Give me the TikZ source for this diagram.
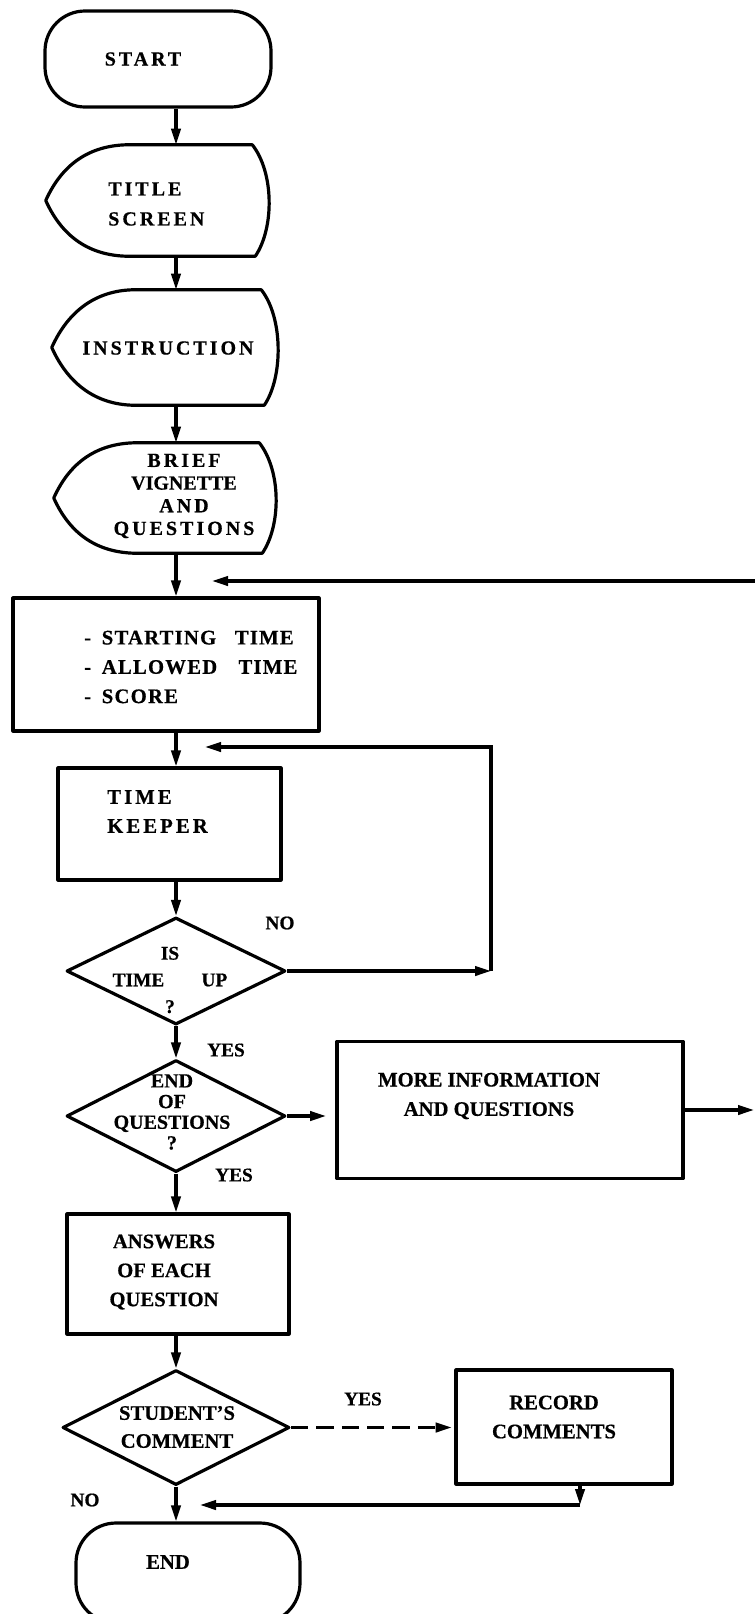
\documentclass[tikz,border=0pt]{standalone}
\usepackage{fontspec}
\setmainfont{Liberation Serif}[BoldFeatures={FakeBold=0.6}]
\newfontfamily\wideserif{Liberation Serif}[LetterSpace=15, BoldFeatures={FakeBold=0.6}]
\newfontfamily\midserif{Liberation Serif}[LetterSpace=6, BoldFeatures={FakeBold=0.6}]
\usetikzlibrary{arrows.meta,shapes.geometric,calc}

% outline of a display (screen) symbol round an empty node
\newcommand\screenline[1]{%
	\draw[outline] (#1.west)
		.. controls ($(#1.west)+(18,-40)$) and ($(#1.north west)+(48,0)$) .. ($(#1.north west)+(84,0)$)
		-- ($(#1.north east)+(-16,0)$)
		.. controls ($(#1.north east)+(6,28)$) and ($(#1.south east)+(6,-28)$) .. ($(#1.south east)+(-13,0)$)
		-- ($(#1.south west)+(84,0)$)
		.. controls ($(#1.south west)+(48,0)$) and ($(#1.west)+(18,40)$) .. (#1.west) -- cycle;}

\tikzset{
	outline/.style={line width=2.4pt, line join=round},
	flow/.style={line width=2.3pt, -{Triangle[length=12pt,width=7pt]}},
	terminal/.style={rectangle, draw, outline, rounded corners=30pt},
	screen/.style={rectangle, draw=none},
	procbox/.style={rectangle, draw, outline},
	decision/.style={diamond, draw, outline, inner sep=0pt},
	upper/.style={inner sep=0pt, align=center, font=\wideserif\bfseries\fontsize{15}{22.5}\selectfont},
	lower/.style={inner sep=0pt, align=center, font=\bfseries\fontsize{15.5}{22}\selectfont},
	tag/.style={inner sep=0pt, font=\bfseries\fontsize{14.5}{17}\selectfont},
}

\begin{document}
\begin{tikzpicture}[x=0.75pt, y=-0.75pt]
	\useasboundingbox (0,0) rectangle (755,1614);
	\clip (0,0) rectangle (755,1614);

	% shapes
	\node[terminal, minimum width=169.5pt, minimum height=72pt] (start) at (158,59) {};
	\node[screen, minimum width=166.5pt, minimum height=83.25pt] (title) at (157,200.5) {};
	\node[screen, minimum width=168.75pt, minimum height=86.25pt] (instr) at (164.5,347.5) {};
	\node[screen, minimum width=165.75pt, minimum height=82.5pt] (brief) at (164.5,498) {};
	\node[procbox, minimum width=229.5pt, minimum height=99.75pt] (setup) at (166,664.5) {};
	\node[procbox, minimum width=167.25pt, minimum height=84pt] (keeper) at (169.5,824) {};
	\node[decision, minimum width=164.25pt, minimum height=80.25pt] (timeup) at (176,971) {};
	\node[decision, minimum width=164.25pt, minimum height=84pt] (lastq) at (176,1116) {};
	\node[procbox, minimum width=259.5pt, minimum height=102.75pt] (more) at (510,1110) {};
	\node[procbox, minimum width=166.5pt, minimum height=90pt] (answers) at (178,1274) {};
	\node[decision, minimum width=170.25pt, minimum height=86.25pt] (comment) at (176,1427.5) {};
	\node[procbox, minimum width=162pt, minimum height=85.5pt] (record) at (564,1427) {};
	\node[terminal, minimum width=168pt, minimum height=75pt] (end) at (188,1573) {};
	\screenline{title}
	\screenline{instr}
	\screenline{brief}

	% texts
	\node[upper] (starttxt) at (143,59) {START};
	\node[upper, align=left, anchor=west] (titletxt) at (108,204) {TITLE\\SCREEN};
	\node[upper] (instrtxt) at (168,348) {INSTRUCTION};
	\node[upper, font=\wideserif\bfseries\fontsize{15}{17}\selectfont] (brieftxt) at (184,496)
		{BRIEF\\{\rmfamily\bfseries VIGNETTE}\\AND\\QUESTIONS};
	\node[lower, align=left, anchor=west, font=\midserif\bfseries\fontsize{15.5}{22}\selectfont] (setuptxt) at (84,667)
		{-\hspace{8pt}STARTING\hspace{14pt}TIME\\-\hspace{8pt}ALLOWED\hspace{16pt}TIME\\-\hspace{8pt}SCORE};
	\node[upper, align=left, anchor=west, font=\wideserif\bfseries\fontsize{15.5}{21.75}\selectfont] (keepertxt) at (107,811.5) {TIME\\KEEPER};
	\node[lower, font=\bfseries\fontsize{14.5}{20}\selectfont] (timeuptxt) at (170,980) {IS\\TIME\hspace{28pt}UP\\?};
	\node[lower, font=\bfseries\fontsize{15}{15.5}\selectfont] (lastqtxt) at (172,1112) {END\\OF\\QUESTIONS\\?};
	\node[lower] (moretxt) at (489,1096) {MORE INFORMATION\\AND QUESTIONS};
	\node[lower, font=\bfseries\fontsize{15.5}{21.75}\selectfont] (answerstxt) at (164,1272) {ANSWERS\\OF EACH\\QUESTION};
	\node[lower, font=\bfseries\fontsize{15.5}{21}\selectfont] (commenttxt) at (177,1427) {STUDENT’S\\COMMENT};
	\node[lower, font=\bfseries\fontsize{15.5}{21.75}\selectfont] (recordtxt) at (554,1417) {RECORD\\COMMENTS};
	\node[lower] (endtxt) at (168,1562) {END};

	% branch labels
	\node[tag] (no1) at (280,923) {NO};
	\node[tag] (yes1) at (226,1050) {YES};
	\node[tag] (yes2) at (234,1175) {YES};
	\node[tag] (yes3) at (363,1399) {YES};
	\node[tag] (no2) at (85,1500) {NO};

	% free ends of connectors
	\coordinate (flowx) at (176,0);
	\coordinate (backin) at (755,581);
	\coordinate (backend) at (212,581);
	\coordinate (loopturn) at (491,971);
	\coordinate (loopend) at (205,747);
	\coordinate (moreout) at (754,1110);
	\coordinate (reccorner) at (580,1505);
	\coordinate (endjoin) at (200,1505);

	% connectors
	\draw[flow] (start.south -| flowx) -- (title.north -| flowx);
	\draw[flow] (title.south -| flowx) -- (instr.north -| flowx);
	\draw[flow] (instr.south -| flowx) -- (brief.north -| flowx);
	\draw[flow] (brief.south -| flowx) -- (setup.north -| flowx);
	\draw[flow] (backin) -- (backend);
	\draw[flow] (setup.south -| flowx) -- (keeper.north -| flowx);
	\draw[flow] (keeper.south -| flowx) -- (timeup.north);
	\draw[flow] (timeup.east) -- (loopturn);
	\draw[flow] (loopturn) |- (loopend);
	\draw[flow] (timeup.south) -- (lastq.north);
	\draw[flow, shorten >=7pt] (lastq.east) -- (lastq.east -| more.west);
	\draw[flow] (more.east) -- (moreout);
	\draw[flow] (lastq.south) -- (answers.north -| flowx);
	\draw[flow] (answers.south -| flowx) -- (comment.north);
	\draw[flow, dash pattern=on 13pt off 6pt, shorten >=2pt] (comment.east) -- (comment.east -| record.west);
	\draw[flow] (record.south -| reccorner) -- (reccorner);
	\draw[flow] (reccorner) -- (endjoin);
	\draw[flow] (comment.south) -- (end.north -| flowx);
\end{tikzpicture}
\end{document}
